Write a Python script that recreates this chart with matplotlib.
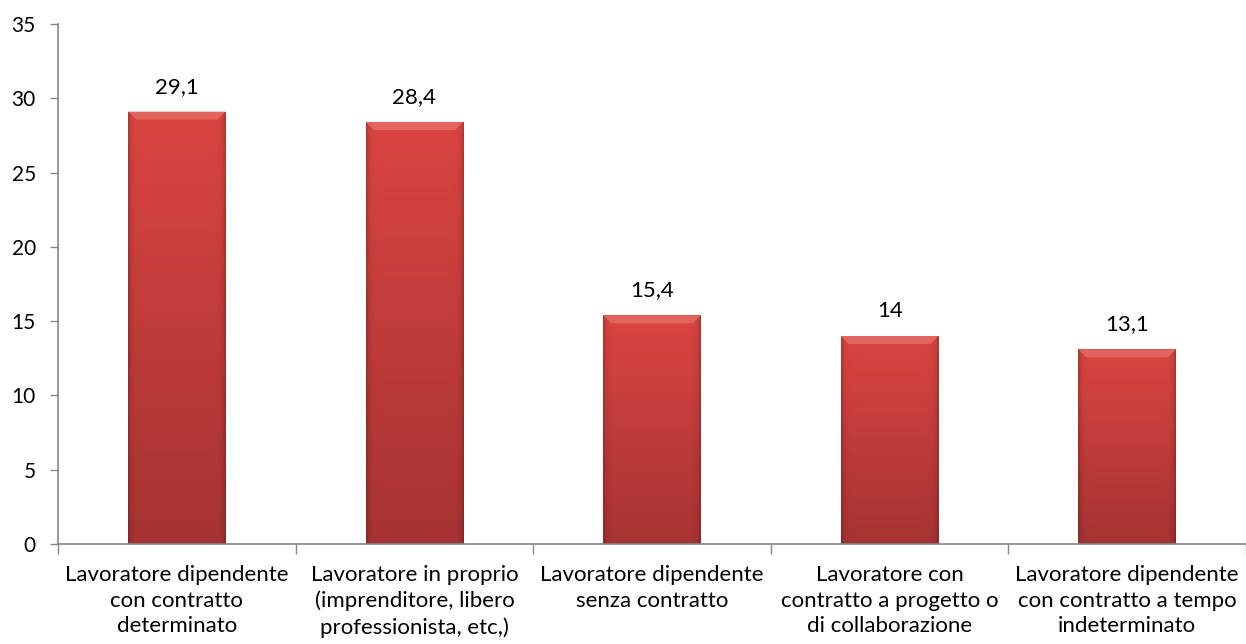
import matplotlib
matplotlib.use('Agg')
import matplotlib.pyplot as plt
import numpy as np
from matplotlib.colors import to_rgb

categories = ['Lavoratore dipendente\ncon contratto\ndeterminato',
              'Lavoratore in proprio\n(imprenditore, libero\nprofessionista, etc,)',
              'Lavoratore dipendente\nsenza contratto',
              'Lavoratore con\ncontratto a progetto o\ndi collaborazione',
              'Lavoratore dipendente\ncon contratto a tempo\nindeterminato']
values = [29.1, 28.4, 15.4, 14.0, 13.1]
value_labels = ['29,1', '28,4', '15,4', '14', '13,1']
yticks = [0, 5, 10, 15, 20, 25, 30, 35]

plt.rcParams.update({
    'font.family': ['Lato', 'DejaVu Sans'],
    'font.size': 16,
})

fig = plt.figure(figsize=(12.46, 6.44), dpi=100)
ax = fig.add_axes([58 / 1246, 1 - 544 / 644, 1188 / 1246, 520 / 644])

x = np.arange(len(values))
width = 0.41
bars = ax.bar(x, values, width=width, color='#C23A38', edgecolor='none', zorder=2)

# per-bar gradient to imitate the bevelled Excel look
top_c = np.array(to_rgb('#DA4541'))
bot_c = np.array(to_rgb('#A63333'))
u = np.linspace(0, 1, 120)
edge = 1 - 0.22 * np.exp(-np.minimum(u, 1 - u) / 0.025)
t = np.linspace(0, 1, 200)[:, None, None]
base = bot_c + (top_c - bot_c) * t
img = np.clip(base * edge[None, :, None], 0, 1)

px_x = 1 / 237.6   # data units per pixel, horizontally
px_y = 35 / 520    # data units per pixel, vertically
for b in bars:
    h = b.get_height()
    x0, x1 = b.get_x(), b.get_x() + b.get_width()
    im = ax.imshow(img, extent=[x0, x1, 0, h], origin='lower', aspect='auto',
                   zorder=2.1, interpolation='bilinear')
    im.set_clip_path(b)
    bev = plt.Polygon([[x0, h], [x1, h], [x1 - 8 * px_x, h - 8 * px_y],
                       [x0 + 8 * px_x, h - 8 * px_y]],
                      closed=True, facecolor='#E2645F', edgecolor='none', zorder=2.2)
    ax.add_patch(bev)

for xi, v, lab in zip(x, values, value_labels):
    ax.annotate(lab, (xi, v), xytext=(0, 18), textcoords='offset points',
                ha='center', va='center', fontsize=16)

ax.set_xlim(-0.5, len(values) - 0.5)
ax.set_ylim(0, 35)
ax.set_yticks(yticks)
ax.set_yticklabels([str(t) for t in yticks], fontsize=15)

ax.set_xticks(np.arange(-0.5, len(values), 1.0))
ax.set_xticklabels([])
ax.set_xticks(x, categories, minor=True)
ax.tick_params(axis='x', which='major', length=7, color='#868686', width=1)
ax.tick_params(axis='x', which='minor', length=0, pad=15, labelsize=16)
ax.tick_params(axis='y', length=6, color='#868686', width=1, pad=10)

for lab in ax.get_xticklabels(minor=True):
    lab.set_linespacing(1.36)

for s in ['top', 'right']:
    ax.spines[s].set_visible(False)
for s in ['left', 'bottom']:
    ax.spines[s].set_color('#868686')
    ax.spines[s].set_linewidth(1.2)

fig.savefig('out.png', dpi=100)
